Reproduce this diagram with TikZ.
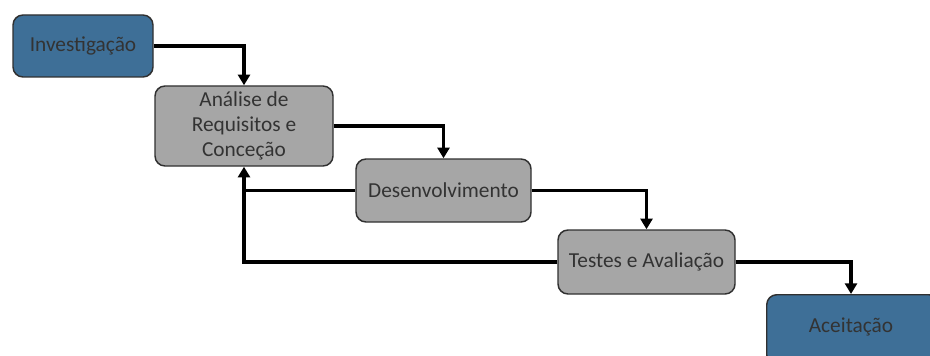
\documentclass[tikz,border=0pt]{standalone}
\usepackage{fontspec}
\setmainfont{Carlito}
\usetikzlibrary{arrows.meta}
\definecolor{stageblue}{HTML}{3E6F97}
\definecolor{stagegray}{HTML}{A6A6A6}
\definecolor{edge}{HTML}{303030}
\definecolor{txt}{HTML}{333333}
\tikzset{
  labelfont/.style={font=\fontsize{16}{18.8}\selectfont},
  box/.style={draw=edge, line width=1.1pt, rounded corners=7.5pt, align=center,
    text=txt, labelfont, inner sep=0pt},
  bluebox/.style={box, fill=stageblue},
  graybox/.style={box, fill=stagegray},
  flow/.style={line width=2.4pt, -{Triangle[length=8pt,width=9pt]}},
  link/.style={line width=2.4pt}
}
\begin{document}
\begin{tikzpicture}[x=0.75pt,y=-0.75pt]
\useasboundingbox (0,0) rectangle (930,356);
\begin{scope}
\clip (0,0) rectangle (930,356);
\node[bluebox, minimum width=140pt*0.75, minimum height=62pt*0.75] (inv) at (83,46) {Investigação};
\node[graybox, minimum width=178pt*0.75, minimum height=80pt*0.75] (ana) at (244,126) {Análise de\\Requisitos e\\Conceção};
\node[graybox, minimum width=175pt*0.75, minimum height=63pt*0.75] (dev) at (443.5,190.5) {Desenvolvimento};
\node[graybox, minimum width=177pt*0.75, minimum height=64pt*0.75] (tst) at (646.5,262) {Testes e Avaliação};
\node[bluebox, minimum width=172pt*0.75, minimum height=70pt*0.75, anchor=north west] (ace) at (766,294) {};
\node[text=txt, labelfont] (acet) at (851,327) {Aceitação};
\end{scope}
\coordinate (fb) at (244,262);
\draw[flow] (inv.east) -| (ana.north);
\draw[flow] (ana.east) -| (dev.north);
\draw[flow] (dev.east) -| (tst.north);
\draw[flow] (tst.east) -| (ace.north -| acet);
\draw[flow] (dev.west) -| (ana.south);
\draw[link] (tst.west) -- (fb) -- ([yshift=1.2pt]fb |- dev.west);
\end{tikzpicture}
\end{document}
